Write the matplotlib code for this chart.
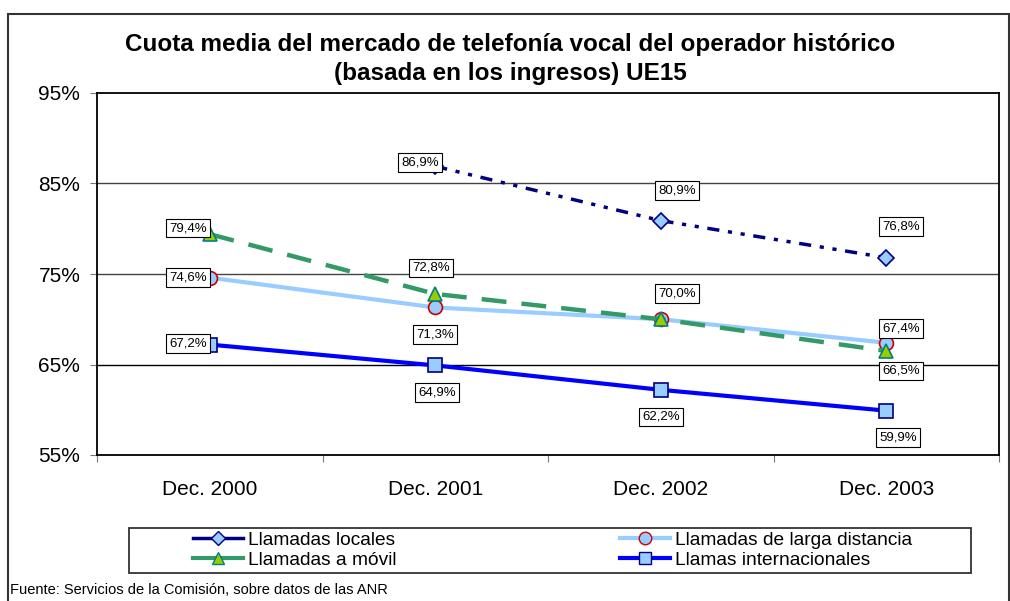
import matplotlib
matplotlib.use("Agg")
import matplotlib.pyplot as plt
from matplotlib.patches import Rectangle
from matplotlib.lines import Line2D
import numpy as np

plt.rcParams['font.family'] = ['Liberation Sans', 'DejaVu Sans']

# Datos
categorias = ['Dec. 2000', 'Dec. 2001', 'Dec. 2002', 'Dec. 2003']
locales = [np.nan, 86.9, 80.9, 76.8]
larga_distancia = [74.6, 71.3, 70.0, 67.4]
movil = [79.4, 72.8, 70.0, 66.5]
internacionales = [67.2, 64.9, 62.2, 59.9]
y_ticks = [55, 65, 75, 85, 95]

x = np.arange(len(categorias))

fig = plt.figure(figsize=(10.1, 6.01), dpi=100)
ax = fig.add_axes([97 / 1010, 1 - 455 / 601, 902 / 1010, 362 / 601])

# marco exterior
fig.patches.append(Rectangle((8 / 1010, -0.02), 1001 / 1010, 1.02 - 14 / 601,
                             transform=fig.transFigure, fill=False,
                             edgecolor='#333333', linewidth=1.5))

ax.plot(x, locales, color='#000080', lw=2.5, dashes=(3.5, 2.5, 1.2, 2.5, 1.2, 2.5),
        marker='D', ms=8, mfc='#99CCFF', mec='#000080', mew=1.2, zorder=5)
ax.plot(x, larga_distancia, color='#99CCFF', lw=3,
        marker='o', ms=10, mfc='#99CCFF', mec='#CC0000', mew=1.2, zorder=3)
ax.plot(x, movil, color='#339966', lw=3.2, dashes=(5.6, 3.4),
        marker='^', ms=10, mfc='#99CC00', mec='#008080', mew=1.2, zorder=4)
ax.plot(x, internacionales, color='#0000FF', lw=3,
        marker='s', ms=10, mfc='#99CCFF', mec='#000080', mew=1.2, zorder=3)

# etiquetas de datos (desplazamiento en pixeles)
etiquetas = [
    (1, locales[1], -15, 4), (2, locales[2], 16, 30), (3, locales[3], 15, 31),
    (0, movil[0], -22, 6), (1, movil[1], -4, 26), (2, movil[2], 16, 26), (3, movil[3], 15, -20),
    (0, larga_distancia[0], -22, 0), (1, larga_distancia[1], 0, -27), (3, larga_distancia[3], 15, 14),
    (0, internacionales[0], -22, 1), (1, internacionales[1], 2, -27),
    (2, internacionales[2], 0, -27), (3, internacionales[3], 12, -27),
]
for xi, v, dx, dy in etiquetas:
    ax.annotate(f"{v:.1f}%".replace('.', ','), (xi, v), xytext=(dx, dy),
                textcoords='offset pixels', ha='center', va='center', fontsize=9.5,
                bbox=dict(boxstyle='square,pad=0.25', fc='white', ec='black', lw=0.8),
                zorder=10)

ax.set_xlim(-0.5, 3.5)
ax.set_ylim(55, 95)
ax.set_yticks(y_ticks)
ax.set_yticklabels([f"{t}%" for t in y_ticks], fontsize=15)
ax.set_xticks([-0.5, 0.5, 1.5, 2.5, 3.5])
ax.set_xticklabels([])
ax.set_xticks(x, minor=True)
ax.set_xticklabels(categorias, minor=True, fontsize=15)
ax.tick_params(axis='x', which='minor', length=0, pad=18)
ax.tick_params(axis='x', which='major', length=5, color='#777777')
ax.tick_params(axis='y', length=5, color='#777777', pad=7)
for s in ax.spines.values():
    s.set_linewidth(1.3)
    s.set_color('black')
for g in [65, 75, 85]:
    ax.axhline(g, color='#444444' if g != 65 else 'black', lw=1.0, zorder=1)

fig.text(0.505, 1 - 59 / 601, 'Cuota media del mercado de telefonía vocal del operador histórico\n'
         '(basada en los ingresos) UE15', ha='center', va='center',
         fontsize=17.5, fontweight='bold', linespacing=1.28)

# leyenda con marco propio
fig.patches.append(Rectangle((129 / 1010, 1 - 573 / 601), 842 / 1010, 45 / 601,
                             transform=fig.transFigure, fill=False,
                             edgecolor='#333333', linewidth=1.3))
handles = [
    Line2D([], [], color='#000080', lw=2.5, marker='D', ms=7, mfc='#99CCFF', mec='#000080'),
    Line2D([], [], color='#339966', lw=3, marker='^', ms=9, mfc='#99CC00', mec='#008080'),
    Line2D([], [], color='#99CCFF', lw=3, marker='o', ms=9, mfc='#99CCFF', mec='#CC0000'),
    Line2D([], [], color='#0000FF', lw=3, marker='s', ms=9, mfc='#99CCFF', mec='#000080'),
]
nombres = ['Llamadas locales', 'Llamadas a móvil',
           'Llamadas de larga distancia', 'Llamas internacionales']
leg = fig.legend(handles, nombres, ncol=2, loc='center left',
                 bbox_to_anchor=(193 / 1010, 1 - 550 / 601),
                 fontsize=13.8, frameon=False, handlelength=2.6, handletextpad=0.25,
                 columnspacing=11.7, borderpad=0, labelspacing=0.12, borderaxespad=0)

fig.text(10 / 1010, 1 - 590 / 601, 'Fuente: Servicios de la Comisión, sobre datos de las ANR',
         fontsize=10.5, va='center', ha='left')

fig.savefig('out.png', dpi=100)
